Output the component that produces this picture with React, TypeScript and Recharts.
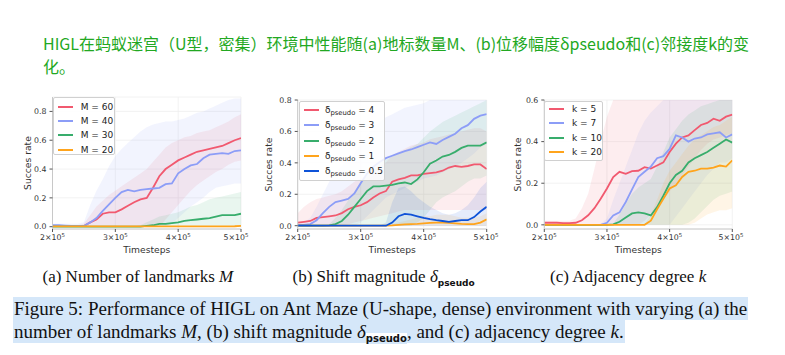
import React from 'react';
import { ComposedChart, Line, Area, XAxis, YAxis, CartesianGrid, Legend } from 'recharts';

// ---------- data ----------
const timesteps = [200000, 210000, 220000, 230000, 240000, 250000, 260000, 270000, 280000, 290000, 300000, 310000, 320000, 330000, 340000, 350000, 360000, 370000, 380000, 390000, 400000, 410000, 420000, 430000, 440000, 450000, 460000, 470000, 480000, 490000, 500000];
const xTicks = [200000, 300000, 400000, 500000];

// (a) number of landmarks
const m60 = [0.005, 0.005, 0.004, 0.004, 0.004, 0.005, 0.03, 0.05, 0.09, 0.10, 0.10, 0.12, 0.145, 0.17, 0.19, 0.20, 0.27, 0.35, 0.40, 0.43, 0.46, 0.48, 0.50, 0.52, 0.53, 0.54, 0.55, 0.56, 0.58, 0.60, 0.615];
const m60Lo = [0, 0, 0, 0, 0, 0, 0, 0, 0, 0, 0, 0, 0, 0, 0, 0, 0, 0, 0.05, 0.1, 0.15, 0.2, 0.25, 0.29, 0.32, 0.35, 0.38, 0.4, 0.43, 0.45, 0.46];
const m60Hi = [0.01, 0.01, 0.01, 0.01, 0.01, 0.02, 0.08, 0.14, 0.18, 0.22, 0.25, 0.28, 0.31, 0.34, 0.37, 0.40, 0.45, 0.50, 0.55, 0.58, 0.60, 0.62, 0.63, 0.65, 0.66, 0.67, 0.69, 0.71, 0.73, 0.76, 0.78];
const m40 = [0.01, 0.01, 0.008, 0.005, 0.005, 0.005, 0.03, 0.06, 0.11, 0.155, 0.20, 0.24, 0.255, 0.245, 0.255, 0.26, 0.265, 0.27, 0.295, 0.30, 0.37, 0.40, 0.425, 0.435, 0.475, 0.50, 0.505, 0.51, 0.505, 0.525, 0.53];
const m40Lo = [0, 0, 0, 0, 0, 0, 0, 0, 0, 0, 0, 0, 0, 0, 0, 0, 0, 0, 0, 0.02, 0.06, 0.1, 0.14, 0.17, 0.2, 0.24, 0.27, 0.28, 0.29, 0.3, 0.3];
const m40Hi = [0.02, 0.02, 0.02, 0.02, 0.02, 0.03, 0.15, 0.25, 0.33, 0.42, 0.49, 0.54, 0.58, 0.62, 0.66, 0.69, 0.71, 0.72, 0.73, 0.73, 0.74, 0.75, 0.77, 0.79, 0.80, 0.82, 0.84, 0.86, 0.88, 0.89, 0.89];
const m30 = [0, 0, 0, 0, 0, 0, 0, 0, 0, 0, 0, 0, 0, 0, 0, 0.005, 0.01, 0.02, 0.02, 0.025, 0.03, 0.04, 0.045, 0.05, 0.055, 0.06, 0.07, 0.08, 0.08, 0.08, 0.09];
const m30Lo = [0, 0, 0, 0, 0, 0, 0, 0, 0, 0, 0, 0, 0, 0, 0, 0, 0, 0, 0, 0, 0, 0, 0, 0, 0, 0, 0, 0, 0, 0, 0];
const m30Hi = [0, 0, 0, 0, 0, 0, 0, 0, 0, 0, 0, 0, 0, 0, 0.01, 0.03, 0.05, 0.07, 0.08, 0.09, 0.1, 0.12, 0.14, 0.15, 0.17, 0.19, 0.2, 0.21, 0.22, 0.23, 0.24];
const m20 = [0.002, 0.002, 0.002, 0.002, 0.002, 0.002, 0.002, 0.002, 0.002, 0.002, 0.002, 0.002, 0.002, 0.002, 0.002, 0.002, 0.002, 0.002, 0.002, 0.002, 0.002, 0.002, 0.002, 0.002, 0.002, 0.002, 0.002, 0.002, 0.002, 0.003, 0.005];

// (b) shift magnitude
const d4 = [0.02, 0.025, 0.03, 0.05, 0.055, 0.06, 0.065, 0.08, 0.105, 0.12, 0.13, 0.15, 0.18, 0.205, 0.22, 0.28, 0.295, 0.305, 0.32, 0.32, 0.33, 0.335, 0.34, 0.35, 0.37, 0.38, 0.375, 0.38, 0.39, 0.39, 0.36];
const d4Lo = [0, 0, 0, 0, 0, 0, 0, 0, 0.01, 0.02, 0.03, 0.04, 0.05, 0.06, 0.07, 0.08, 0.09, 0.1, 0.1, 0.1, 0.1, 0.1, 0.1, 0.1, 0.1, 0.1, 0.1, 0.1, 0.1, 0.1, 0.1];
const d4Hi = [0.08, 0.12, 0.15, 0.17, 0.18, 0.19, 0.2, 0.22, 0.25, 0.28, 0.3, 0.32, 0.35, 0.38, 0.4, 0.45, 0.47, 0.49, 0.51, 0.52, 0.53, 0.55, 0.56, 0.57, 0.58, 0.59, 0.6, 0.61, 0.62, 0.62, 0.6];
const d3 = [0.005, 0.005, 0.01, 0.035, 0.08, 0.12, 0.15, 0.16, 0.17, 0.205, 0.27, 0.33, 0.375, 0.405, 0.43, 0.445, 0.46, 0.475, 0.485, 0.50, 0.515, 0.53, 0.52, 0.545, 0.565, 0.585, 0.62, 0.64, 0.68, 0.70, 0.71];
const d3Lo = [0, 0, 0, 0, 0, 0, 0, 0, 0, 0, 0.02, 0.06, 0.1, 0.14, 0.18, 0.2, 0.22, 0.24, 0.26, 0.28, 0.3, 0.31, 0.32, 0.34, 0.36, 0.38, 0.4, 0.43, 0.46, 0.5, 0.52];
const d3Hi = [0.01, 0.02, 0.05, 0.12, 0.2, 0.28, 0.34, 0.38, 0.42, 0.46, 0.52, 0.58, 0.62, 0.66, 0.69, 0.71, 0.73, 0.75, 0.76, 0.77, 0.78, 0.8, 0.82, 0.84, 0.85, 0.86, 0.88, 0.9, 0.92, 0.92, 0.92];
const d2 = [0, 0, 0, 0, 0, 0.002, 0.01, 0.03, 0.07, 0.12, 0.17, 0.22, 0.25, 0.25, 0.255, 0.26, 0.27, 0.275, 0.265, 0.295, 0.34, 0.395, 0.415, 0.44, 0.45, 0.47, 0.495, 0.51, 0.51, 0.51, 0.53];
const d2Lo = [0, 0, 0, 0, 0, 0, 0, 0, 0, 0, 0, 0, 0, 0, 0, 0, 0, 0, 0, 0.02, 0.05, 0.1, 0.15, 0.18, 0.2, 0.22, 0.25, 0.28, 0.3, 0.3, 0.32];
const d2Hi = [0, 0, 0, 0, 0, 0.01, 0.05, 0.1, 0.16, 0.22, 0.28, 0.34, 0.38, 0.4, 0.42, 0.44, 0.46, 0.48, 0.5, 0.52, 0.56, 0.6, 0.63, 0.66, 0.68, 0.7, 0.72, 0.74, 0.76, 0.78, 0.8];
const d1 = [0, 0, 0, 0, 0, 0, 0, 0, 0, 0, 0, 0, 0, 0, 0, 0.002, 0.005, 0.008, 0.01, 0.012, 0.015, 0.018, 0.02, 0.02, 0.018, 0.015, 0.012, 0.01, 0.01, 0.02, 0.04];
const d1Lo = [0, 0, 0, 0, 0, 0, 0, 0, 0, 0, 0, 0, 0, 0, 0, 0, 0, 0, 0, 0, 0, 0, 0, 0, 0, 0, 0, 0, 0, 0, 0];
const d1Hi = [0, 0, 0, 0, 0, 0, 0, 0, 0, 0, 0, 0, 0, 0, 0, 0.01, 0.02, 0.03, 0.04, 0.05, 0.06, 0.06, 0.07, 0.07, 0.07, 0.06, 0.05, 0.05, 0.05, 0.06, 0.08];
const d05 = [0, 0, 0, 0, 0, 0, 0, 0, 0, 0, 0, 0, 0, 0, 0, 0.02, 0.06, 0.075, 0.07, 0.06, 0.05, 0.042, 0.035, 0.03, 0.025, 0.03, 0.035, 0.035, 0.055, 0.09, 0.12];
const d05Lo = [0, 0, 0, 0, 0, 0, 0, 0, 0, 0, 0, 0, 0, 0, 0, 0, 0, 0, 0, 0, 0, 0, 0, 0, 0, 0, 0, 0, 0, 0, 0];
const d05Hi = [0, 0, 0, 0, 0, 0, 0, 0, 0, 0, 0, 0, 0, 0, 0.02, 0.15, 0.24, 0.25, 0.22, 0.18, 0.15, 0.12, 0.1, 0.08, 0.07, 0.08, 0.1, 0.13, 0.18, 0.24, 0.28];

// (c) adjacency degree
const k5 = [0.01, 0.01, 0.01, 0.008, 0.008, 0.01, 0.022, 0.046, 0.08, 0.125, 0.175, 0.23, 0.255, 0.245, 0.258, 0.26, 0.277, 0.27, 0.285, 0.30, 0.35, 0.39, 0.42, 0.43, 0.455, 0.48, 0.49, 0.51, 0.50, 0.52, 0.53];
const k5Lo = [0, 0, 0, 0, 0, 0, 0, 0, 0, 0, 0, 0, 0, 0, 0, 0, 0.02, 0.05, 0.08, 0.12, 0.16, 0.2, 0.24, 0.28, 0.32, 0.36, 0.39, 0.41, 0.42, 0.43, 0.44];
const k5Hi = [0.02, 0.02, 0.02, 0.02, 0.02, 0.03, 0.08, 0.15, 0.27, 0.4, 0.52, 0.6, 0.65, 0.66, 0.67, 0.68, 0.69, 0.7, 0.7, 0.7, 0.7, 0.7, 0.7, 0.7, 0.7, 0.7, 0.7, 0.7, 0.7, 0.7, 0.7];
const k7 = [0, 0, 0, 0, 0, 0, 0, 0, 0, 0, 0.01, 0.045, 0.06, 0.11, 0.17, 0.23, 0.255, 0.28, 0.32, 0.33, 0.365, 0.43, 0.42, 0.40, 0.415, 0.42, 0.435, 0.44, 0.445, 0.42, 0.435];
const k7Lo = [0, 0, 0, 0, 0, 0, 0, 0, 0, 0, 0, 0, 0, 0, 0, 0, 0, 0, 0, 0, 0, 0.04, 0.08, 0.12, 0.16, 0.2, 0.24, 0.27, 0.3, 0.3, 0.32];
const k7Hi = [0, 0, 0, 0, 0, 0, 0, 0, 0, 0.005, 0.03, 0.12, 0.2, 0.28, 0.36, 0.44, 0.5, 0.54, 0.57, 0.6, 0.62, 0.64, 0.65, 0.66, 0.67, 0.68, 0.68, 0.68, 0.68, 0.68, 0.68];
const k10 = [0, 0, 0, 0, 0, 0, 0, 0, 0, 0, 0, 0.002, 0.015, 0.035, 0.055, 0.06, 0.055, 0.045, 0.085, 0.14, 0.20, 0.24, 0.26, 0.30, 0.32, 0.335, 0.35, 0.37, 0.39, 0.41, 0.395];
const k10Lo = [0, 0, 0, 0, 0, 0, 0, 0, 0, 0, 0, 0, 0, 0, 0, 0, 0, 0, 0, 0, 0, 0, 0, 0.01, 0.03, 0.06, 0.09, 0.12, 0.14, 0.15, 0.16];
const k10Hi = [0, 0, 0, 0, 0, 0, 0, 0, 0, 0, 0, 0.005, 0.05, 0.1, 0.15, 0.18, 0.2, 0.22, 0.28, 0.35, 0.42, 0.46, 0.5, 0.53, 0.55, 0.57, 0.58, 0.59, 0.6, 0.62, 0.62];
const k20 = [0, 0, 0, 0, 0, 0, 0, 0, 0, 0, 0, 0, 0, 0, 0, 0, 0, 0.02, 0.075, 0.125, 0.175, 0.19, 0.23, 0.255, 0.26, 0.27, 0.27, 0.275, 0.285, 0.28, 0.31];
const k20Lo = [0, 0, 0, 0, 0, 0, 0, 0, 0, 0, 0, 0, 0, 0, 0, 0, 0, 0, 0, 0, 0, 0, 0, 0, 0.01, 0.03, 0.05, 0.06, 0.07, 0.07, 0.08];
const k20Hi = [0, 0, 0, 0, 0, 0, 0, 0, 0, 0, 0, 0, 0, 0, 0, 0, 0, 0.05, 0.12, 0.2, 0.26, 0.3, 0.34, 0.38, 0.41, 0.43, 0.45, 0.47, 0.48, 0.5, 0.52];

const yTicksA = [0, 0.2, 0.4, 0.6, 0.8];
const yTicksB = [0, 0.2, 0.4, 0.6, 0.8];
const yTicksC = [0, 0.2, 0.4, 0.6];

// ---------- styles ----------
const RED = '#f1596f';
const LAV = '#8c9df7';
const GREEN = '#38ad6c';
const ORANGE = '#ffa41c';
const BLUE = '#0e53d8';

type Series = { name: string; label: React.ReactNode; color: string; values: number[]; lo?: number[]; hi?: number[] };

const dsub = (v: string) => (
  <span>δ<span style={{ fontSize: 6.8, position: 'relative', top: 2 }}>pseudo</span> = {v}</span>
);

const seriesA: Series[] = [
  { name: 'm60', label: 'M = 60', color: RED, values: m60, lo: m60Lo, hi: m60Hi },
  { name: 'm40', label: 'M = 40', color: LAV, values: m40, lo: m40Lo, hi: m40Hi },
  { name: 'm30', label: 'M = 30', color: GREEN, values: m30, lo: m30Lo, hi: m30Hi },
  { name: 'm20', label: 'M = 20', color: ORANGE, values: m20 },
];
const seriesB: Series[] = [
  { name: 'd4', label: dsub('4'), color: RED, values: d4, lo: d4Lo, hi: d4Hi },
  { name: 'd3', label: dsub('3'), color: LAV, values: d3, lo: d3Lo, hi: d3Hi },
  { name: 'd2', label: dsub('2'), color: GREEN, values: d2, lo: d2Lo, hi: d2Hi },
  { name: 'd1', label: dsub('1'), color: ORANGE, values: d1, lo: d1Lo, hi: d1Hi },
  { name: 'd05', label: dsub('0.5'), color: BLUE, values: d05, lo: d05Lo, hi: d05Hi },
];
const seriesC: Series[] = [
  { name: 'k5', label: 'k = 5', color: RED, values: k5, lo: k5Lo, hi: k5Hi },
  { name: 'k7', label: 'k = 7', color: LAV, values: k7, lo: k7Lo, hi: k7Hi },
  { name: 'k10', label: 'k = 10', color: GREEN, values: k10, lo: k10Lo, hi: k10Hi },
  { name: 'k20', label: 'k = 20', color: ORANGE, values: k20, lo: k20Lo, hi: k20Hi },
];

function buildData(series: Series[]) {
  return timesteps.map((t, i) => {
    const row: any = { t };
    series.forEach((s) => {
      row[s.name] = s.values[i];
      if (s.lo && s.hi) row[s.name + 'Band'] = [s.lo[i], s.hi[i]];
    });
    return row;
  });
}

const TICK_FONT = 'DejaVu Sans';
const TICK_SIZE = 7.8;

const XTick = (props: any) => {
  const { x, y, payload } = props;
  const mant = Math.round(payload.value / 100000);
  return (
    <text x={x} y={y + 6.3} textAnchor="middle" fontSize={TICK_SIZE} fill="#333" fontFamily={TICK_FONT}>
      {mant}×10<tspan dy={-3.2} fontSize={5.4}>5</tspan>
    </text>
  );
};

const YTick = (props: any) => {
  const { x, y, payload } = props;
  return (
    <text x={x} y={y + 2.8} textAnchor="end" fontSize={TICK_SIZE} fill="#333" fontFamily={TICK_FONT}>
      {Number(payload.value).toFixed(1)}
    </text>
  );
};

type LegendCfg = { left: number; top: number; w: number; h: number; rowTop: number; rowGap: number; lineX: number; lineLen: number; textX: number };

const LegendBox = ({ items, cfg }: { items: Series[]; cfg: LegendCfg }) => (
  <div style={{ position: 'relative', width: cfg.w, height: cfg.h, border: '1px solid #d0d0d0', background: 'rgba(255,255,255,0.85)', borderRadius: 2, boxSizing: 'border-box', fontFamily: TICK_FONT, fontSize: 9, color: '#222' }}>
    {items.map((it, i) => (
      <div key={it.name} style={{ position: 'absolute', left: 0, top: cfg.rowTop + i * cfg.rowGap - 6, height: 12, width: '100%' }}>
        <div style={{ position: 'absolute', left: cfg.lineX, top: 5, width: cfg.lineLen, height: 2, background: it.color }} />
        <div style={{ position: 'absolute', left: cfg.textX, top: 0, lineHeight: '12px', whiteSpace: 'nowrap' }}>{it.label}</div>
      </div>
    ))}
  </div>
);

type PanelProps = {
  left: number; top: number; series: Series[]; yDomain: [number, number]; yTicks: number[];
  yAxisWidth: number; marginTop: number; marginRight: number; yLabelOffset: number; legend: LegendCfg;
};

function Panel(p: PanelProps) {
  const data = buildData(p.series);
  return (
    <div style={{ position: 'absolute', left: p.left, top: p.top }}>
      <ComposedChart width={260} height={170} data={data} margin={{ top: p.marginTop, right: p.marginRight, bottom: 0, left: 0 }}>
        <CartesianGrid stroke="#efefef" strokeWidth={0.8} />
        <XAxis
          dataKey="t" type="number" domain={[200000, 500000]} ticks={xTicks} allowDataOverflow
          height={31} tickSize={3} tickMargin={2} tick={<XTick />} stroke="#555"
          axisLine={{ stroke: '#c8c8c8' }} tickLine={{ stroke: '#555' }}
          label={{
            content: (lp: any) => {
              const vb = lp.viewBox || {};
              return (
                <text x={vb.x + vb.width / 2} y={vb.y + 23.5} textAnchor="middle" fontSize={9.2} fill="#333" fontFamily={TICK_FONT}>Timesteps</text>
              );
            },
          }}
        />
        <XAxis xAxisId="top" orientation="top" dataKey="t" type="number" domain={[200000, 500000]} height={0} tick={false} tickLine={false} axisLine={{ stroke: '#c8c8c8' }} />
        <YAxis
          type="number" domain={p.yDomain} ticks={p.yTicks} allowDataOverflow width={p.yAxisWidth}
          tickSize={3} tickMargin={3} tick={<YTick />} axisLine={{ stroke: '#c8c8c8' }} tickLine={{ stroke: '#555' }}
          label={{
            content: (lp: any) => {
              const vb = lp.viewBox || {};
              const cx = vb.x + vb.width - p.yLabelOffset;
              const cy = vb.y + vb.height / 2;
              return (
                <text x={cx} y={cy + 3} transform={`rotate(-90 ${cx} ${cy})`} textAnchor="middle" fontSize={9.2} fill="#333" fontFamily={TICK_FONT}>Succes rate</text>
              );
            },
          }}
        />
        <YAxis yAxisId="right" orientation="right" type="number" domain={p.yDomain} width={0} tick={false} tickLine={false} axisLine={{ stroke: '#c8c8c8' }} />
        {p.series.filter((s) => s.lo && s.hi).map((s) => (
          <Area key={s.name + 'Band'} dataKey={s.name + 'Band'} type="linear" stroke="none" fill={s.color} fillOpacity={0.11} isAnimationActive={false} legendType="none" dot={false} activeDot={false} />
        ))}
        {p.series.map((s) => (
          <Line key={s.name} dataKey={s.name} type="linear" stroke={s.color} strokeWidth={1.8} dot={false} activeDot={false} isAnimationActive={false} />
        ))}
        <Legend
          layout="horizontal" verticalAlign="middle" align="center"
          wrapperStyle={{ left: p.legend.left, top: p.legend.top, width: p.legend.w, height: p.legend.h }}
          content={() => <LegendBox items={p.series} cfg={p.legend} />}
        />
      </ComposedChart>
    </div>
  );
}

const serif = '"Liberation Serif", "Times New Roman", serif';
const HL = '#d5e7f9';

export default function App() {
  return (
    <div style={{ position: 'absolute', left: 0, top: 0, width: 785, height: 355, background: '#fff', overflow: 'hidden' }}>
      <div style={{ position: 'absolute', left: 43, top: 32, fontFamily: '"Noto Sans CJK SC", sans-serif', fontSize: 16, lineHeight: '22.5px', color: '#22a822', whiteSpace: 'nowrap' }}>
        HIGL在蚂蚁迷宫（U型，密集）环境中性能随(a)地标数量M、(b)位移幅度δpseudo和(c)邻接度k的变<br />化。
      </div>

      <Panel left={0} top={90} series={seriesA} yDomain={[-0.016, 0.9]} yTicks={yTicksA} yAxisWidth={52.5} marginTop={7} marginRight={19} yLabelOffset={24.8}
        legend={{ left: 52.7, top: 7, w: 62.5, h: 58, rowTop: 9, rowGap: 14.2, lineX: 4.5, lineLen: 15, textX: 27 }} />
      <Panel left={250} top={90} series={seriesB} yDomain={[-0.021, 0.8]} yTicks={yTicksB} yAxisWidth={47.7} marginTop={10} marginRight={23.3} yLabelOffset={28.4}
        legend={{ left: 49, top: 10.7, w: 86, h: 80, rowTop: 8.3, rowGap: 15.3, lineX: 3.7, lineLen: 15.3, textX: 25 }} />
      <Panel left={495} top={90} series={seriesC} yDomain={[-0.02, 0.6]} yTicks={yTicksC} yAxisWidth={49.3} marginTop={10} marginRight={22.7} yLabelOffset={26}
        legend={{ left: 49.3, top: 10.7, w: 59, h: 60, rowTop: 7.3, rowGap: 14.4, lineX: 3.4, lineLen: 15.3, textX: 26.7 }} />

      <div style={{ position: 'absolute', left: 42.5, top: 267, fontFamily: serif, fontSize: 17, lineHeight: '20px', color: '#111', whiteSpace: 'nowrap' }}>
        (a) Number of landmarks <i>M</i>
      </div>
      <div style={{ position: 'absolute', left: 292.5, top: 267, fontFamily: serif, fontSize: 17, lineHeight: '20px', color: '#111', whiteSpace: 'nowrap' }}>
        (b) Shift magnitude <i>δ</i><span style={{ fontFamily: 'DejaVu Sans', fontWeight: 'bold', fontSize: 9, position: 'relative', top: 4 }}>pseudo</span>
      </div>
      <div style={{ position: 'absolute', left: 550, top: 267, fontFamily: serif, fontSize: 17, lineHeight: '20px', color: '#111', whiteSpace: 'nowrap' }}>
        (c) Adjacency degree <i>k</i>
      </div>

      <div style={{ position: 'absolute', left: 12.5, top: 296.5, fontFamily: serif, fontSize: 19, color: '#111', whiteSpace: 'nowrap' }}>
        <div style={{ height: 23 }}>
          <span style={{ display: 'inline-block', height: 23, lineHeight: '23px', background: HL, paddingLeft: 1.5, paddingRight: 1 }}>
            Figure 5: Performance of HIGL on Ant Maze (U-shape, dense) environment with varying (a) the
          </span>
        </div>
        <div style={{ height: 23 }}>
          <span style={{ display: 'inline-block', height: 23, lineHeight: '23px', background: HL, paddingLeft: 1.5, paddingRight: 1 }}>
            number of landmarks <i>M</i>, (b) shift magnitude <i>δ</i><span style={{ fontFamily: 'DejaVu Sans', fontWeight: 'bold', fontSize: 10, position: 'relative', top: 4, background: 'linear-gradient(#fff 0 45%, ' + HL + ' 45%)' }}>pseudo</span>, and (c) adjacency degree <i>k</i>.
          </span>
        </div>
      </div>
    </div>
  );
}
